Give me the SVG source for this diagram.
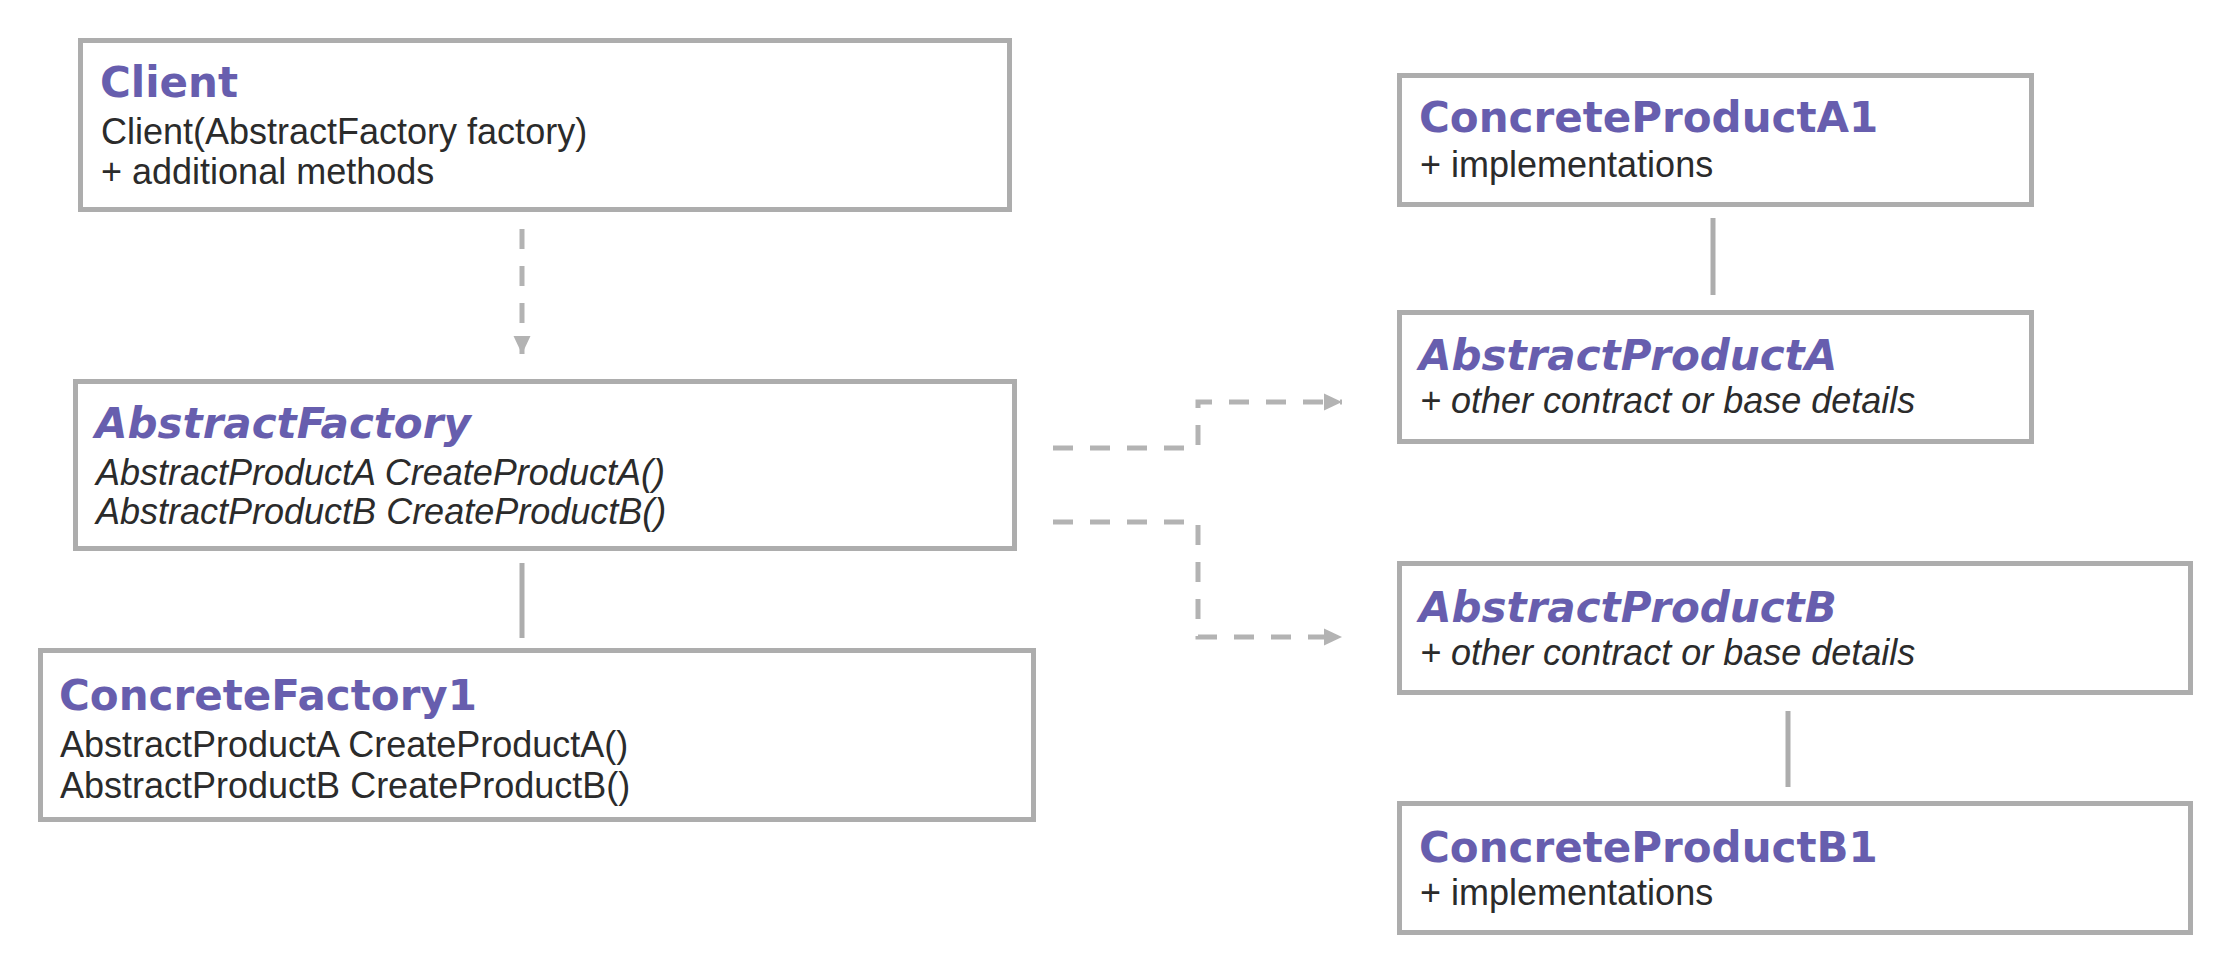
<svg xmlns="http://www.w3.org/2000/svg" width="2238" height="964" viewBox="0 0 2238 964">
  <defs>
    <style>
      .box { fill: #ffffff; stroke: #adadad; stroke-width: 5; }
      .title { font-family: "DejaVu Sans", sans-serif; font-weight: bold; font-size: 42px; fill: #675eae; }
      .ital { font-style: italic; }
      .body { font-family: "Liberation Sans", Arial, sans-serif; font-size: 36px; fill: #2b2b2b; }
      .dash { fill: none; stroke: #b3b3b3; stroke-width: 5; stroke-dasharray: 20 17; }
      .solid { fill: none; stroke: #adadad; stroke-width: 5; }
    </style>
    <marker id="arrow" markerUnits="userSpaceOnUse" markerWidth="18" markerHeight="18" viewBox="0 0 18 18" refX="18" refY="9" orient="auto">
      <path d="M0,0.5 L18,9 L0,17.5 Z" fill="#b3b3b3"/>
    </marker>
  </defs>
  <rect width="2238" height="964" fill="#ffffff"/>

  <g id="connectors">
    <path class="dash" d="M522,229 V354" marker-end="url(#arrow)"/>
    <path class="dash" d="M1053,448 H1198 V402 H1342" marker-end="url(#arrow)"/>
    <path class="dash" d="M1053,522 H1198 V637 H1342" marker-end="url(#arrow)"/>
    <line class="solid" x1="522" y1="563" x2="522" y2="638"/>
    <line class="solid" x1="1713" y1="218" x2="1713" y2="295"/>
    <line class="solid" x1="1788" y1="711" x2="1788" y2="787"/>
  </g>

  <g id="client">
    <rect class="box" x="80.5" y="40.5" width="929" height="169"/>
    <text class="title" x="100" y="97">Client</text>
    <text class="body" x="101" y="144">Client(AbstractFactory factory)</text>
    <text class="body" x="101" y="184">+ additional methods</text>
  </g>

  <g id="abstract-factory">
    <rect class="box" x="75.5" y="381.5" width="939" height="167"/>
    <text class="title ital" x="95" y="438">AbstractFactory</text>
    <text class="body ital" x="96" y="485">AbstractProductA CreateProductA()</text>
    <text class="body ital" x="96" y="524">AbstractProductB CreateProductB()</text>
  </g>

  <g id="concrete-factory1">
    <rect class="box" x="40.5" y="650.5" width="993" height="169"/>
    <text class="title" x="59" y="710">ConcreteFactory1</text>
    <text class="body" x="60" y="757">AbstractProductA CreateProductA()</text>
    <text class="body" x="60" y="798">AbstractProductB CreateProductB()</text>
  </g>

  <g id="concrete-product-a1">
    <rect class="box" x="1399.5" y="75.5" width="632" height="129"/>
    <text class="title" x="1419" y="132">ConcreteProductA1</text>
    <text class="body" x="1420" y="177">+ implementations</text>
  </g>

  <g id="abstract-product-a">
    <rect class="box" x="1399.5" y="312.5" width="632" height="129"/>
    <text class="title ital" x="1419" y="370">AbstractProductA</text>
    <text class="body ital" x="1420" y="413">+ other contract or base details</text>
  </g>

  <g id="abstract-product-b">
    <rect class="box" x="1399.5" y="563.5" width="791" height="129"/>
    <text class="title ital" x="1419" y="622">AbstractProductB</text>
    <text class="body ital" x="1420" y="665">+ other contract or base details</text>
  </g>

  <g id="concrete-product-b1">
    <rect class="box" x="1399.5" y="803.5" width="791" height="129"/>
    <text class="title" x="1419" y="862">ConcreteProductB1</text>
    <text class="body" x="1420" y="905">+ implementations</text>
  </g>
</svg>
